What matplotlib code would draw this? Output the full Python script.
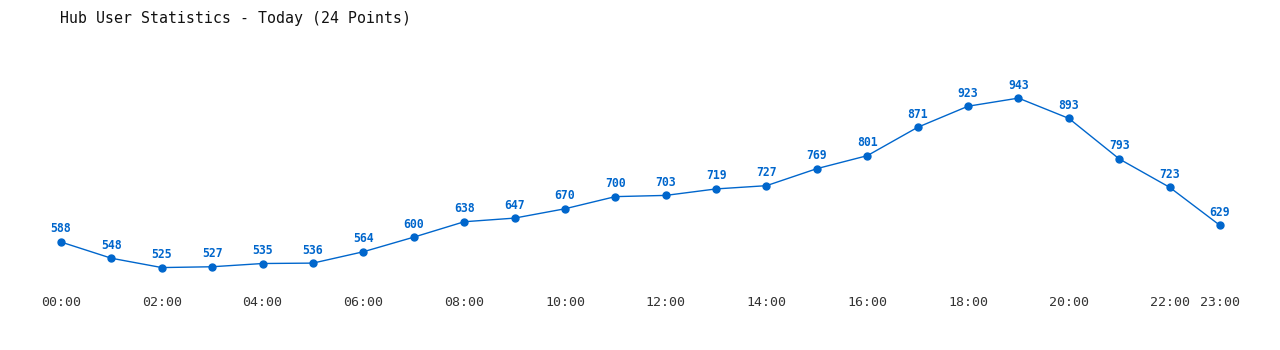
import matplotlib.pyplot as plt

hours = list(range(24))
users = [588, 548, 525, 527, 535, 536, 564, 600, 638, 647, 670, 700,
         703, 719, 727, 769, 801, 871, 923, 943, 893, 793, 723, 629]
tick_pos = [0, 2, 4, 6, 8, 10, 12, 14, 16, 18, 20, 22, 23]
tick_labels = [f"{h:02d}:00" for h in tick_pos]

blue = '#0066cc'
plt.rcParams['font.family'] = ['DejaVu Sans Mono']

fig = plt.figure(figsize=(12.8, 3.5), dpi=100)
ax = fig.add_axes([61/1280, 65/350, (1220-61)/1280, 225/350])
ax.plot(hours, users, color=blue, lw=1, marker='o', markersize=5, clip_on=False)
for h, u in zip(hours, users):
    ax.annotate(str(u), (h, u), xytext=(0, 9.4), textcoords='offset points',
                ha='center', va='center', color=blue, fontsize=8.3, fontweight='bold')

ax.set_xlim(0, 23)
ax.set_ylim(482, 1037)
ax.set_xticks(tick_pos)
ax.set_xticklabels(tick_labels, fontsize=9.5, color='#333333')
ax.tick_params(axis='x', length=0, pad=8)
ax.set_yticks([])
for s in ax.spines.values():
    s.set_visible(False)
ax.patch.set_alpha(0)

fig.text(60/1280, 1 - 18/350, 'Hub User Statistics - Today (24 Points)',
         fontsize=10.7, color='#111111', va='center', ha='left')

plt.savefig('out.png')
